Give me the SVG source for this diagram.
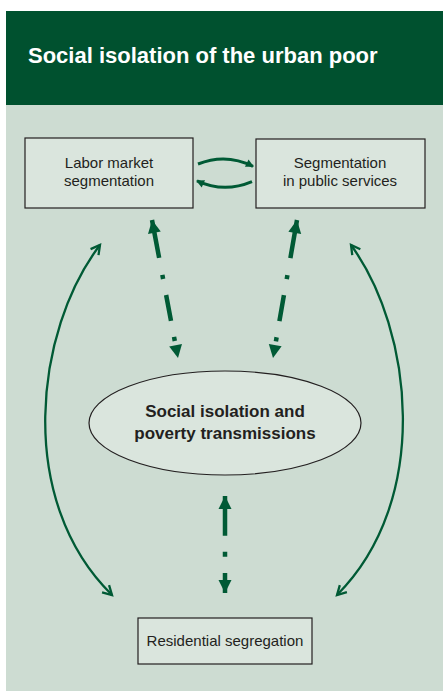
<svg xmlns="http://www.w3.org/2000/svg" width="444" height="691" viewBox="0 0 444 691">
<defs>
<style>
.box{fill:#dae5dd;stroke:#231f20;stroke-width:1.2}
.lbl{font-family:"Liberation Sans",Arial,sans-serif;font-size:15px;fill:#231f20;text-anchor:middle}
.bold{font-weight:bold;font-size:17px}
.thick{fill:none;stroke:#005a35;stroke-width:4.5}
.curve{fill:none;stroke:#005a35;stroke-width:2.3}
.small{fill:none;stroke:#005a35;stroke-width:3}
</style>
<marker id="bigHead" markerUnits="userSpaceOnUse" markerWidth="14" markerHeight="14" refX="13" refY="6.5" orient="auto-start-reverse" overflow="visible">
<path d="M0,0 L13,6.5 L0,13 z" fill="#005a35"/>
</marker>
<marker id="openHead" markerUnits="userSpaceOnUse" markerWidth="12" markerHeight="12" refX="9" refY="5" orient="auto-start-reverse" overflow="visible">
<path d="M0,0 L9,5 L0,10" fill="none" stroke="#005a35" stroke-width="2.3"/>
</marker>
<marker id="smallHead" markerUnits="userSpaceOnUse" markerWidth="9" markerHeight="9" refX="7" refY="4" orient="auto" overflow="visible">
<path d="M0,0 L8,4 L0,8 z" fill="#005a35"/>
</marker>
</defs>
<rect x="0" y="0" width="444" height="691" fill="#ffffff"/>
<rect x="6" y="11" width="437" height="94" fill="#00512f"/>
<rect x="6" y="105" width="437" height="586" fill="#cddcd2"/>
<text x="28" y="63" font-family="'Liberation Sans',Arial,sans-serif" font-size="22" font-weight="bold" fill="#ffffff">Social isolation of the urban poor</text>
<g id="connectors">
<path class="small" d="M198,164 Q226,152.8 253,166.3" marker-end="url(#smallHead)"/>
<path class="small" d="M252,181.7 Q224,193.4 197,180.9" marker-end="url(#smallHead)"/>
<path class="thick" d="M152,220 L178,358" stroke-dasharray="38.6 17.3 4.1 16.3 26.4 16.3 4.1 50" marker-start="url(#bigHead)" marker-end="url(#bigHead)"/>
<path class="thick" d="M297,220 L273,358" stroke-dasharray="38.6 17.3 4.1 16.3 26.4 16.3 4.1 50" marker-start="url(#bigHead)" marker-end="url(#bigHead)"/>
<path class="thick" d="M225,496 L225,593" stroke-width="5.5" stroke-dasharray="39.7 16 5 16.3 30" marker-start="url(#bigHead)" marker-end="url(#bigHead)"/>
<path class="curve" d="M100,245 C35,330 15,500 112,595" marker-start="url(#openHead)" marker-end="url(#openHead)"/>
<path class="curve" d="M351,245 C413,330 432,500 337,595" marker-start="url(#openHead)" marker-end="url(#openHead)"/>
</g>
<g id="labor">
<rect class="box" x="25" y="138" width="168" height="70"/>
<text class="lbl" x="109" y="168">Labor market</text>
<text class="lbl" x="109" y="186">segmentation</text>
</g>
<g id="public">
<rect class="box" x="256" y="139" width="169" height="69"/>
<text class="lbl" x="340" y="168">Segmentation</text>
<text class="lbl" x="340" y="186">in public services</text>
</g>
<g id="isolation">
<ellipse class="box" cx="225" cy="423" rx="136" ry="52"/>
<text class="lbl bold" x="225" y="417">Social isolation and</text>
<text class="lbl bold" x="225" y="439">poverty transmissions</text>
</g>
<g id="residential">
<rect class="box" x="138" y="618" width="174" height="46"/>
<text class="lbl" x="225" y="646">Residential segregation</text>
</g>
</svg>
